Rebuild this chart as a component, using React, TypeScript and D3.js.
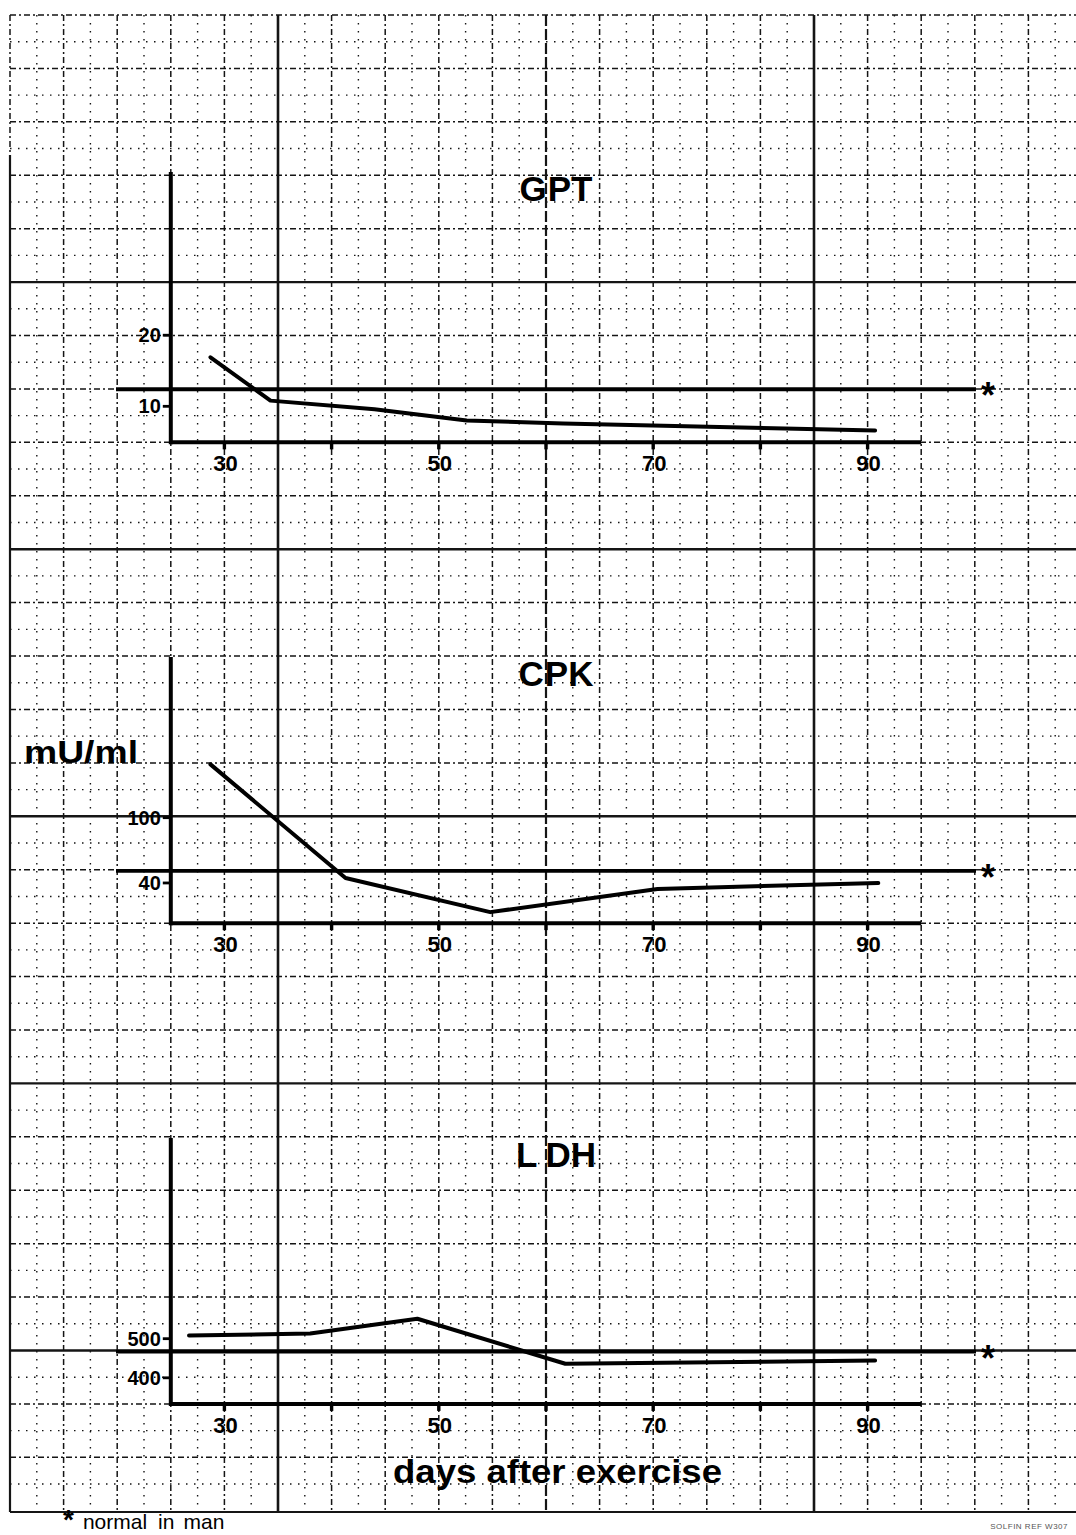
import React from 'react';
import * as d3 from 'd3';

const W = 1076;
const H = 1535;

// x axis: days after exercise
const dayTicks = [30, 40, 50, 60, 70, 80, 90];
const dayLabels = [30, 50, 70, 90];

// GPT (mU/ml)
const gptDays = [28.7, 34.3, 44.0, 52.6, 61.6, 90.7];
const gptValues = [16.9, 10.8, 9.6, 8.0, 7.6, 6.6];
const gptTicks = [10, 20];
const gptNormal = 12.4;

// CPK (mU/ml)
const cpkDays = [28.7, 41.3, 54.8, 70.4, 91.0];
const cpkValues = [149, 44.6, 13.2, 34.5, 40];
const cpkTicks = [40, 100];
const cpkNormal = 51.1;

// LDH (mU/ml)
const ldhDays = [26.7, 38.0, 48.0, 61.8, 90.7];
const ldhValues = [508, 513, 551, 436, 444];
const ldhTicks = [400, 500];
const ldhNormal = 466.7;

const FONT = '"Liberation Sans", Arial, Helvetica, sans-serif';

// graph paper geometry
const gx0 = 10;
const gy0 = 15;
const gdx = 53.6;
const gdy = 53.42;
const paperRight = W;
const paperBottom = 1512;

const x = d3.scaleLinear().domain([25, 95]).range([gx0 + 3 * gdx, gx0 + 17 * gdx]);

type Panel = {
  title: string[];
  top: number;
  bottom: number;
  domain: [number, number];
  days: number[];
  values: number[];
  ticks: number[];
  normal: number;
};

const panels: Panel[] = [
  { title: ['G', 'PT'], top: 172, bottom: gy0 + 8 * gdy, domain: [4.93, 42.96], days: gptDays, values: gptValues, ticks: gptTicks, normal: gptNormal },
  { title: ['C', 'PK'], top: 657, bottom: gy0 + 17 * gdy, domain: [3.08, 247.7], days: cpkDays, values: cpkValues, ticks: cpkTicks, normal: cpkNormal },
  { title: ['L', 'DH'], top: 1138, bottom: gy0 + 26 * gdy, domain: [333.3, 1012.8], days: ldhDays, values: ldhValues, ticks: ldhTicks, normal: ldhNormal },
];

function GraphPaper() {
  const nCols = Math.ceil((paperRight - gx0) / gdx);
  const nRows = Math.round((paperBottom - gy0) / gdy);
  const cols = d3.range(0, nCols + 1).map((k) => gx0 + k * gdx).filter((v) => v <= paperRight);
  const rows = d3.range(0, nRows + 1).map((k) => gy0 + k * gdy).filter((v) => v <= paperBottom + 1);
  const halfCols = d3.range(0, nCols).map((k) => gx0 + (k + 0.5) * gdx).filter((v) => v <= paperRight);
  const halfRows = d3.range(0, nRows).map((k) => gy0 + (k + 0.5) * gdy).filter((v) => v <= paperBottom);
  const ink = '#151515';
  return (
    <g>
      {halfCols.map((v, i) => (
        <line key={'hc' + i} x1={v} x2={v} y1={gy0} y2={paperBottom} stroke={ink} strokeWidth={1.4} strokeDasharray="1.5 6.5" />
      ))}
      {halfRows.map((v, i) => (
        <line key={'hr' + i} y1={v} y2={v} x1={gx0} x2={paperRight} stroke={ink} strokeWidth={1.4} strokeDasharray="1.5 6.5" />
      ))}
      {cols.map((v, i) => {
        if (i === 0) return null;
        const k = i % 10;
        if (k === 5) {
          return <line key={'c' + i} x1={v} x2={v} y1={gy0} y2={paperBottom} stroke={ink} strokeWidth={2.6} />;
        }
        if (k === 0) {
          return <line key={'c' + i} x1={v} x2={v} y1={gy0} y2={paperBottom} stroke={ink} strokeWidth={2.2} strokeDasharray="11 3" />;
        }
        return <line key={'c' + i} x1={v} x2={v} y1={gy0} y2={paperBottom} stroke={ink} strokeWidth={1.5} strokeDasharray="6 3 2 3" />;
      })}
      {rows.map((v, i) => {
        if (i === nRows) return null;
        if (i % 5 === 0 && i > 0) {
          return <line key={'r' + i} y1={v} y2={v} x1={gx0} x2={paperRight} stroke={ink} strokeWidth={2.4} />;
        }
        return <line key={'r' + i} y1={v} y2={v} x1={gx0} x2={paperRight} stroke={ink} strokeWidth={1.5} strokeDasharray="6 3 2 3" />;
      })}
      {/* paper edges */}
      <line x1={gx0} x2={gx0} y1={gy0} y2={155} stroke={ink} strokeWidth={1.5} strokeDasharray="6 3 2 3" />
      <line x1={gx0} x2={gx0} y1={155} y2={paperBottom} stroke={ink} strokeWidth={2.2} />
      <line x1={gx0} x2={paperRight} y1={paperBottom} y2={paperBottom} stroke={ink} strokeWidth={2.2} />
    </g>
  );
}

function ChartPanel({ p }: { p: Panel }) {
  const y = d3.scaleLinear().domain(p.domain).range([p.bottom, p.top]);
  const line = d3
    .line<number>()
    .x((d, i) => x(p.days[i]))
    .y((d) => y(d))
    .curve(d3.curveLinear);
  const x0 = x.range()[0];
  const x1 = x.range()[1];
  const yn = y(p.normal);
  return (
    <g>
      {/* title */}
      <text x={556} y={p.top + 29} fontFamily={FONT} fontWeight="bold" fontSize={35} textAnchor="middle" fill="#000">
        <tspan>{p.title[0]}</tspan>
        <tspan dx={p.title[0] === 'L' ? 8 : 1}>{p.title[1]}</tspan>
      </text>
      {/* normal level line */}
      <line x1={116} x2={976} y1={yn} y2={yn} stroke="#000" strokeWidth={3.8} />
      <text x={988} y={yn + 19} fontFamily={FONT} fontWeight="bold" fontSize={36} textAnchor="middle" fill="#000">*</text>
      {/* axes */}
      <line x1={x0} x2={x0} y1={p.top} y2={p.bottom + 2} stroke="#000" strokeWidth={4} />
      <line x1={x0} x2={x1} y1={p.bottom} y2={p.bottom} stroke="#000" strokeWidth={4} />
      {dayTicks.map((d) => (
        <line key={d} x1={x(d)} x2={x(d)} y1={p.bottom} y2={p.bottom + 7} stroke="#000" strokeWidth={3.4} />
      ))}
      {dayLabels.map((d) => (
        <text key={d} x={x(d) + 1} y={p.bottom + 29} fontFamily={FONT} fontWeight="bold" fontSize={22} textAnchor="middle" fill="#000">
          {d}
        </text>
      ))}
      {p.ticks.map((t) => (
        <g key={t}>
          <line x1={x0 - 8} x2={x0} y1={y(t)} y2={y(t)} stroke="#000" strokeWidth={2.8} />
          <text x={x0 - 10} y={y(t) + 7} fontFamily={FONT} fontWeight="bold" fontSize={20} textAnchor="end" fill="#000">
            {t}
          </text>
        </g>
      ))}
      {/* series */}
      <path d={line(p.values) || ''} fill="none" stroke="#000" strokeWidth={4} strokeLinejoin="round" strokeLinecap="round" />
    </g>
  );
}

export default function App() {
  return (
    <svg
      width={W}
      height={H}
      viewBox={`0 0 ${W} ${H}`}
      style={{ position: 'absolute', left: 0, top: 0, background: '#fff' }}
    >
      <rect x={0} y={0} width={W} height={H} fill="#fff" />
      <GraphPaper />
      {panels.map((p) => (
        <ChartPanel key={p.title.join('')} p={p} />
      ))}
      <text x={24} y={763} fontFamily={FONT} fontWeight="bold" fontSize={31} textLength={114} lengthAdjust="spacingAndGlyphs" fill="#000">
        mU/ml
      </text>
      <text x={393} y={1483} fontFamily={FONT} fontWeight="bold" fontSize={34} textLength={329} lengthAdjust="spacingAndGlyphs" fill="#000">
        days after exercise
      </text>
      <text x={63} y={1529} fontFamily={FONT} fontSize={21} fill="#000">
        <tspan fontWeight="bold" fontSize={28}>*</tspan>
        <tspan dx={9}>normal</tspan>
        <tspan dx={11}>in</tspan>
        <tspan dx={9}>man</tspan>
      </text>
      <text x={1068} y={1529} fontFamily={FONT} fontSize={8} textAnchor="end" fill="#555" letterSpacing={0.5}>
        SOLFIN  REF  W307
      </text>
    </svg>
  );
}
